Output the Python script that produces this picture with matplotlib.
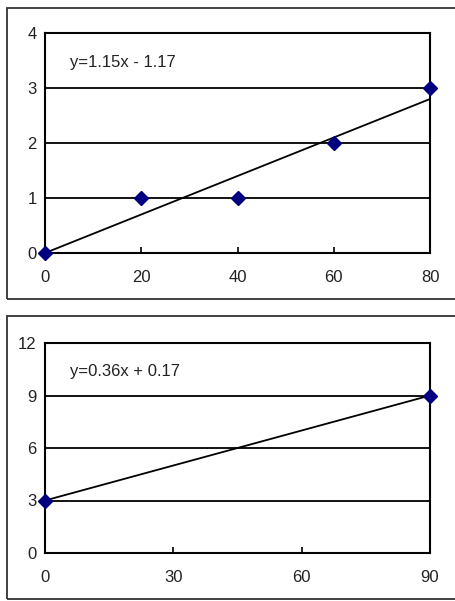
import numpy as np
import matplotlib
matplotlib.use("Agg")
import matplotlib.pyplot as plt
from matplotlib.patches import Rectangle

plt.rcParams['font.family'] = ['Liberation Sans', 'DejaVu Sans']

# Panel 1 data
x1 = [0, 20, 40, 60, 80]
y1 = [0, 1, 1, 2, 3]
xticks1 = [0, 20, 40, 60, 80]
yticks1 = [0, 1, 2, 3, 4]
label1 = "y=1.15x - 1.17"

# Panel 2 data
x2 = [0, 90]
y2 = [3, 9]
xticks2 = [0, 30, 60, 90]
yticks2 = [0, 3, 6, 9, 12]
label2 = "y=0.36x + 0.17"

W, H = 455, 601
fig = plt.figure(figsize=(W / 100, H / 100), dpi=100)

def fx(px):
    return px / W

def fy(py):
    return 1 - py / H

# outer frames
for top, bot in [(8, 299), (316, 599)]:
    fig.patches.append(Rectangle((fx(7), fy(bot)), fx(470) - fx(7), fy(top) - fy(bot),
                                 transform=fig.transFigure, fill=False,
                                 edgecolor='#333333', linewidth=1.3))

def panel(rect, xs, ys, xt, yt, label):
    ax = fig.add_axes(rect)
    ax.set_xlim(xt[0], xt[-1])
    ax.set_ylim(yt[0], yt[-1])
    ax.set_xticks(xt)
    ax.set_yticks(yt)
    ax.tick_params(axis='x', direction='in', length=4, width=1.2, pad=12,
                   labelsize=12, labelcolor='#222222')
    ax.tick_params(axis='y', direction='in', length=0, pad=6,
                   labelsize=12, labelcolor='#222222')
    for s in ax.spines.values():
        s.set_linewidth(1.5)
        s.set_color('black')
    for g in yt[1:-1]:
        ax.axhline(g, color='black', linewidth=1.3, zorder=1)
    k, b = np.polyfit(xs, ys, 1)
    xx = np.array([xt[0], xt[-1]])
    ax.plot(xx, k * xx + b, color='black', linewidth=1.3, zorder=2)
    ax.plot(xs, ys, linestyle='none', marker='D', markersize=7.5,
            color='#000080', clip_on=False, zorder=3)
    ax.text(0.065, 0.865, label, transform=ax.transAxes, fontsize=12,
            color='#222222', va='center', ha='left')
    return ax

panel([fx(45), fy(253), fx(430) - fx(45), fy(33) - fy(253)],
      x1, y1, xticks1, yticks1, label1)
panel([fx(45), fy(553), fx(430) - fx(45), fy(343) - fy(553)],
      x2, y2, xticks2, yticks2, label2)

fig.savefig("out.png", dpi=100)
